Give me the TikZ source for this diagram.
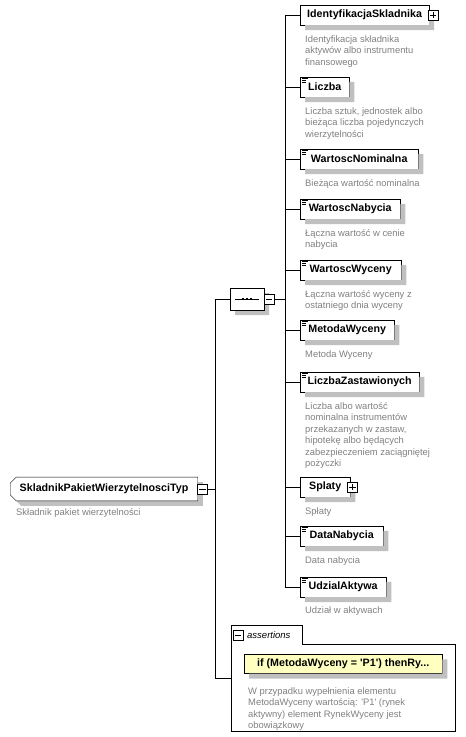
\documentclass[tikz,border=0pt]{standalone}
\usepackage{fontspec}
\setmainfont{Liberation Sans}
\usepackage{tikz}
\usetikzlibrary{shapes.misc}
\definecolor{descgray}{RGB}{128,128,128}
\definecolor{shadowgray}{RGB}{192,192,192}
\definecolor{ruleyellow}{RGB}{255,255,192}
\tikzstyle{elem} = [rectangle, draw, fill=white, anchor=west, minimum height=20pt, inner xsep=7pt, font=\bfseries\fontsize{10.7}{12}\selectfont]
\tikzstyle{roottype} = [elem, chamfered rectangle, chamfered rectangle corners={north west, south west}, chamfered rectangle xsep=2.5pt, minimum width=184pt, minimum height=19pt]
\tikzstyle{compositor} = [chamfered rectangle, chamfered rectangle xsep=6pt, draw, fill=white, minimum width=34pt, minimum height=22pt, inner sep=0pt]
\tikzstyle{signbox} = [rectangle, draw, fill=white, minimum size=10pt, inner sep=0pt]
\tikzstyle{desc} = [anchor=north west, inner sep=0pt, align=left, text=descgray, font=\fontsize{9.4}{11.5}\selectfont]
\tikzstyle{rulebox} = [elem, fill=ruleyellow, minimum width=198pt, minimum height=19pt]
\tikzstyle{shade box} = [draw=none, fill=shadowgray]
\newcommand{\minussign}[1]{\draw ([xshift=2pt]#1.west) -- ([xshift=-2pt]#1.east);}
\newcommand{\plussign}[1]{\minussign{#1}\draw ([yshift=-2pt]#1.north) -- ([yshift=2pt]#1.south);}
\newcommand{\elemmark}[1]{\draw[line width=0.8pt] ([xshift=2pt,yshift=-2pt]#1.north west) -- +(6pt,0pt) ([xshift=2pt,yshift=-4pt]#1.north west) -- +(4pt,0pt) ([xshift=2pt,yshift=-6pt]#1.north west) -- +(4pt,0pt);}
\newcommand{\boxshadow}[1]{\path[shade box] ([xshift=5pt]#1.south west) rectangle ([xshift=5pt,yshift=-5pt]#1.south east) ([yshift=-5pt]#1.north east) rectangle ([xshift=5pt]#1.south east);}

\begin{document}
\begin{tikzpicture}[x=1pt, y=-1pt]
  \useasboundingbox (0,0) rectangle (466,737);

  % root type
  \node [roottype, shade box] at (15,494) {\phantom{SkladnikPakietWierzytelnosciTyp}};
  \node (typ) [roottype] at (10,489) {SkladnikPakietWierzytelnosciTyp};
  \node (typsign) [signbox] at ([xshift=4.5pt]typ.east) {};
  \minussign{typsign}
  \node (typdesc) [desc] at (16,508) {Składnik pakiet wierzytelności};

  % sequence
  \node [compositor, shade box] at (252,304) {};
  \node (seq) [compositor] at (247,299) {};
  \draw ([xshift=5pt]seq.west) -- ([xshift=-5pt]seq.east);
  \foreach \d in {-4,0,4}
    \fill ([xshift=\d pt]seq.center) +(-1.3pt,-1.3pt) rectangle +(1.3pt,1.3pt);
  \node (seqsign) [signbox] at ([xshift=5pt]seq.east) {};
  \minussign{seqsign}

  % elements
  \node (ident) [elem, minimum width=127pt] at (300,15) {IdentyfikacjaSkladnika};
  \boxshadow{ident}
  \node (identsign) [signbox] at ([xshift=4pt]ident.east) {};
  \plussign{identsign}
  \node (identdesc) [desc] at (305,35) {Identyfikacja składnika\\aktywów albo instrumentu\\finansowego};

  \node (liczba) [elem, minimum width=49pt] at (300,87) {Liczba};
  \boxshadow{liczba}
  \elemmark{liczba}
  \node (liczbadesc) [desc] at (305,107) {Liczba sztuk, jednostek albo\\bieżąca liczba pojedynczych\\wierzytelności};

  \node (wnom) [elem, minimum width=118pt] at (300,159) {WartoscNominalna};
  \boxshadow{wnom}
  \elemmark{wnom}
  \node (wnomdesc) [desc] at (305,179) {Bieżąca wartość nominalna};

  \node (wnab) [elem, minimum width=100pt] at (300,209) {WartoscNabycia};
  \boxshadow{wnab}
  \elemmark{wnab}
  \node (wnabdesc) [desc] at (305,229) {Łączna wartość w cenie\\nabycia};

  \node (wwyc) [elem, minimum width=101pt] at (300,270) {WartoscWyceny};
  \boxshadow{wwyc}
  \elemmark{wwyc}
  \node (wwycdesc) [desc] at (305,290) {Łączna wartość wyceny z\\ostatniego dnia wyceny};

  \node (metoda) [elem, minimum width=94pt] at (300,330) {MetodaWyceny};
  \boxshadow{metoda}
  \elemmark{metoda}
  \node (metodadesc) [desc] at (305,350) {Metoda Wyceny};

  \node (lzast) [elem, minimum width=119pt] at (300,382) {LiczbaZastawionych};
  \boxshadow{lzast}
  \elemmark{lzast}
  \node (lzastdesc) [desc] at (305,402) {Liczba albo wartość\\nominalna instrumentów\\przekazanych w zastaw,\\hipotekę albo będących\\zabezpieczeniem zaciągniętej\\pożyczki};

  \node (splaty) [elem, minimum width=50pt] at (300,487) {Splaty};
  \boxshadow{splaty}
  \node (splatysign) [signbox] at ([xshift=2pt]splaty.east) {};
  \plussign{splatysign}
  \node (splatydesc) [desc] at (305,507) {Spłaty};

  \node (datan) [elem, minimum width=83pt] at (300,536) {DataNabycia};
  \boxshadow{datan}
  \elemmark{datan}
  \node (datandesc) [desc] at (305,556) {Data nabycia};

  \node (udzial) [elem, minimum width=86pt] at (300,587) {UdzialAktywa};
  \boxshadow{udzial}
  \elemmark{udzial}
  \node (udzialdesc) [desc] at (305,606) {Udział w aktywach};

  % assertions
  \draw (231,731) |- (302,625) |- (455,644) |- (231,731) -- cycle;
  \node (asrtsign) [signbox] at (238,635) {};
  \minussign{asrtsign}
  \node (asrtlabel) [anchor=west, inner sep=0pt, font=\itshape\fontsize{9.5}{11}\selectfont] at (247,635) {assertions};
  \node (rule) [rulebox] at (244,664) {if (MetodaWyceny = \textquotesingle P1\textquotesingle) thenRy...};
  \boxshadow{rule}
  \node (ruledesc) [desc] at (248,687) {W przypadku wypełnienia elementu\\MetodaWyceny wartością: \textquotesingle P1\textquotesingle{} (rynek\\aktywny) element RynekWyceny jest\\obowiązkowy};

  % connectors
  \coordinate (rbus) at (285,299);
  \draw (seqsign.east) -- (rbus);
  \draw (rbus |- ident.west) -- (rbus |- udzial.west);
  \foreach \n in {ident,liczba,wnom,wnab,wwyc,metoda,lzast,splaty,datan,udzial}
    \draw (rbus |- \n.west) -- (\n.west);

  \coordinate (lbus) at (215,299);
  \coordinate (asrtin) at (231,678);
  \draw (seq.west) -- (lbus) -- (lbus |- asrtin) -- (asrtin);
  \draw (typsign.east) -- (lbus |- typsign.east);
\end{tikzpicture}
\end{document}
